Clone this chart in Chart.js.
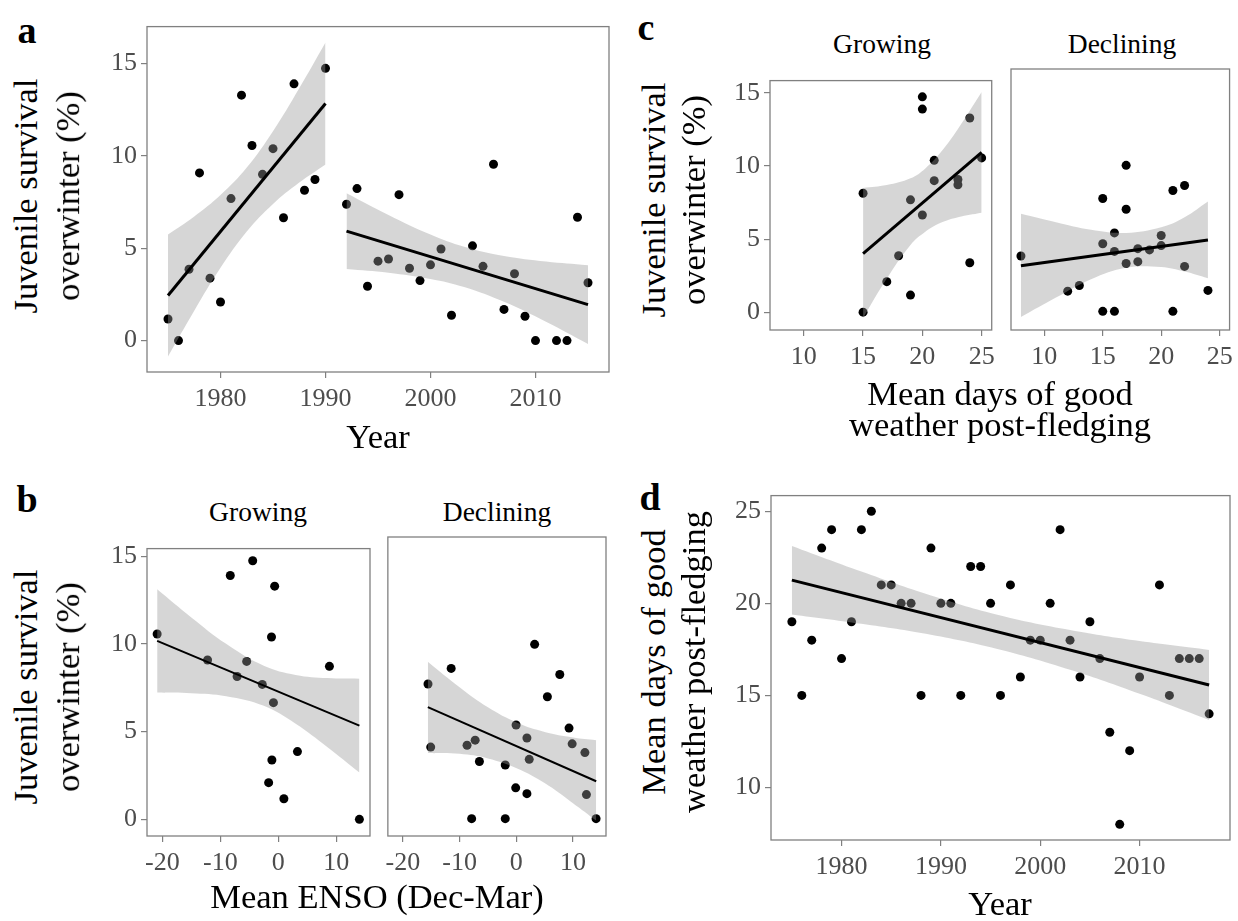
<!DOCTYPE html>
<html><head><meta charset="utf-8">
<script src="https://cdn.jsdelivr.net/npm/chart.js@4.4.1/dist/chart.umd.min.js"></script>
<style>
html,body{margin:0;padding:0;background:#fff;}
#root{position:relative;width:1238px;height:921px;overflow:hidden;background:#fff;}
canvas{position:absolute;}
.t{position:absolute;left:0;top:0;white-space:nowrap;font-family:'Liberation Serif','Times New Roman',serif;color:#000;transform-origin:0 0;}
</style></head><body><div id="root"></div>
<script>
// ---------- DATA ----------
// Panel a : juvenile survival by year
const yearsGrowing = [1975,1976,1977,1978,1979,1980,1981,1982,1983,1984,1985,1986,1987,1988,1989,1990];
const survivalGrowing = [1.17,0,3.86,9.08,3.38,2.09,7.69,13.29,10.56,9.0,10.39,6.65,13.9,8.14,8.72,14.74];
const yearsDeclining = [1992,1993,1994,1995,1996,1997,1998,1999,2000,2001,2002,2004,2005,2006,2007,2008,2009,2010,2012,2013,2014,2015];
const survivalDeclining = [7.38,8.23,2.94,4.3,4.42,7.9,3.92,3.25,4.1,4.96,1.37,5.13,4.02,9.55,1.69,3.62,1.32,0,0,0,6.68,3.13];
const fitA_grow_x = [1975,1990], fitA_grow_y = [2.44,12.84];
const bandA_grow_x = [1975,1977.5,1980,1982.5,1985,1987.5,1990];
const bandA_grow_hi = [5.74,6.72,7.88,9.37,11.34,13.66,16.14];
const bandA_grow_lo = [-0.86,1.62,3.94,5.91,7.40,8.56,9.54];
const fitA_decl_x = [1992,2015], fitA_decl_y = [5.93,1.95];
const bandA_decl_x = [1992,1996,2000,2003.2,2007,2011,2015];
const bandA_decl_hi = [7.98,6.80,5.74,5.08,4.58,4.28,4.08];
const bandA_decl_lo = [3.88,3.68,3.34,2.90,2.10,1.02,-0.18];

// Panel b : survival vs mean ENSO (Dec-Mar)
const ensoGrowing = [-20.9,-12.2,-8.28,-7.1,-5.45,-4.41,-2.76,-1.17,-0.83,-0.62,-1.1,-1.66,0.97,3.31,8.83,14.0];
const survEnsoGrowing = [10.56,9.08,13.9,8.14,9.0,14.74,7.69,10.39,6.65,13.29,3.38,2.09,1.17,3.86,8.72,0];
const ensoDeclining = [-15.57,-15.09,-11.48,-8.68,-7.87,-7.25,-6.5,-1.94,-1.94,-0.1,-0.03,1.88,1.88,2.29,3.24,5.49,7.68,9.31,9.86,12.11,12.38,14.08];
const survEnsoDeclining = [7.38,3.92,8.23,4.02,0,4.3,3.13,2.94,0,1.69,5.13,4.42,1.37,3.25,9.55,6.68,7.9,4.96,4.1,3.62,1.32,0];
const fitB_grow_x = [-20.9,14.0], fitB_grow_y = [10.17,5.34];
const bandB_grow_x = [-20.9,-15,-9,-2.5,3,8.5,14.0];
const bandB_grow_hi = [13.11,11.51,10.00,8.75,8.23,8.05,8.01];
const bandB_grow_lo = [7.23,7.19,7.02,6.47,5.45,4.11,2.67];
const fitB_decl_x = [-15.6,14.1], fitB_decl_y = [6.11,2.05];
const bandB_decl_x = [-15.6,-10,-5,0.17,5,10,14.1];
const bandB_decl_hi = [8.6,7.2,6.1,5.25,4.75,4.45,4.3];
const bandB_decl_lo = [3.6,3.55,3.3,2.75,1.95,0.85,-0.1];

// Panel c : survival vs mean days of good weather post-fledging
const daysGrowing = [15,15,17,18,19,19,20,20,20,21,21,23,23,24,24,25];
const survDaysGrowing = [8.14,0,2.09,3.86,7.69,1.17,14.74,13.9,6.65,10.39,9.0,9.08,8.72,13.29,3.38,10.56];
const daysDeclining = [8,12,13,15,15,15,16,16,16,17,17,17,18,18,19,20,20,21,21,22,22,24];
const survDaysDeclining = [3.62,1.32,1.69,7.38,4.42,0,5.13,3.92,0,9.55,6.68,3.13,4.1,3.25,4.02,4.96,4.3,7.9,0,8.23,2.94,1.37];
const fitC_grow_x = [15,25], fitC_grow_y = [4.01,10.94];
const bandC_grow_x = [15,17,19,20.25,21.5,23,25];
const bandC_grow_hi = [8.5,8.7,9.16,9.84,10.89,12.54,15.07];
const bandC_grow_lo = [-0.4,2.3,4.6,5.5,6.1,6.5,6.81];
const fitC_decl_x = [8,24], fitC_decl_y = [2.98,4.67];
const bandC_decl_x = [8,11,14,17,20,22,24];
const bandC_decl_hi = [6.38,5.83,5.33,5.13,5.5,6.16,7.19];
const bandC_decl_lo = [-0.37,0.9,2.1,2.85,2.9,2.6,2.17];

// Panel d : mean days of good weather post-fledging by year
const yearsAll = [1975,1976,1977,1978,1979,1980,1981,1982,1983,1984,1985,1986,1987,1988,1989,1990,1991,1992,1993,1994,1995,1996,1997,1998,1999,2000,2001,2002,2003,2004,2005,2006,2007,2008,2009,2010,2012,2013,2014,2015,2016,2017];
const goodDays = [19,15,18,23,24,17,19,24,25,21,21,20,20,15,23,20,20,15,22,22,20,15,21,16,18,18,20,24,18,16,19,17,13,8,12,16,21,15,17,17,17,14];
const fitD_x = [1975,2017], fitD_y = [21.26,15.57];
const bandD_x = [1975,1982,1989,1996,2003,2010,2017];
const bandD_hi = [23.12,21.73,20.43,19.34,18.55,17.95,17.47];
const bandD_lo = [19.40,18.89,18.29,17.48,16.39,15.09,13.67];

// tick labels
const ticksYear = [1980,1990,2000,2010];
const ticksSurvival = [0,5,10,15];
const ticksEnso = [-20,-10,0,10];
const ticksDays = [10,15,20,25];
const ticksGoodDays = [10,15,20,25];

// ---------- DRAWING ----------
const root = document.getElementById('root');
const FONT = "'Liberation Serif','Times New Roman',serif";
const xy = (xs, ys) => xs.map((x, i) => ({x: x, y: ys[i]}));

const framePlugin = {
  id: 'frame',
  afterDraw(c) {
    const a = c.chartArea, ctx = c.ctx;
    ctx.save();
    ctx.strokeStyle = '#808080';
    ctx.lineWidth = 1.3;
    ctx.strokeRect(a.left, a.top, a.right - a.left, a.bottom - a.top);
    ctx.restore();
  }
};

function groupDatasets(px, py, fx, fy, bx, bhi, blo, lw) {
  return [
    {data: xy(fx, fy), showLine: true, borderColor: '#000', borderWidth: lw, pointRadius: 0, fill: false, order: 1},
    {data: xy(bx, bhi), showLine: true, borderColor: 'rgba(0,0,0,0)', borderWidth: 0, pointRadius: 0,
     fill: '+1', backgroundColor: 'rgba(153,153,153,0.4)', tension: 0.4, order: 2},
    {data: xy(bx, blo), showLine: true, borderColor: 'rgba(0,0,0,0)', borderWidth: 0, pointRadius: 0, fill: false, tension: 0.4, order: 2},
    {data: xy(px, py), showLine: false, pointRadius: 4.5, pointBackgroundColor: '#000', pointBorderWidth: 0, order: 3, clip: false}
  ];
}

function panel(p) {
  const PAD = 8, XH = 50, YW = p.yTicks ? 64 : 0;
  const leftPad = p.yTicks ? 0 : PAD;
  const cl = p.L - YW - leftPad, ct = p.T - PAD;
  const cw = p.R - cl + PAD, ch = p.B - ct + XH;
  const cv = document.createElement('canvas');
  cv.width = cw; cv.height = ch;
  cv.style.left = cl + 'px'; cv.style.top = ct + 'px';
  cv.style.width = cw + 'px'; cv.style.height = ch + 'px';
  root.appendChild(cv);
  const tickFont = {family: FONT, size: 26};
  const grid = {drawOnChartArea: false, drawTicks: true, tickLength: 6, color: '#808080', lineWidth: 1.2};
  new Chart(cv.getContext('2d'), {
    type: 'scatter',
    data: {datasets: p.datasets},
    options: {
      responsive: false, animation: false, events: [],
      layout: {padding: {left: leftPad, top: PAD, right: PAD, bottom: 0}, autoPadding: false},
      plugins: {legend: {display: false}, tooltip: {enabled: false}},
      scales: {
        x: {type: 'linear', min: p.xMin, max: p.xMax,
            afterBuildTicks: s => { s.ticks = p.xTicks.map(v => ({value: v})); },
            afterFit: s => { s.height = XH; },
            ticks: {font: tickFont, color: '#4d4d4d', padding: 6, maxRotation: 0, minRotation: 0, autoSkip: false, callback: v => String(v)},
            grid: grid, border: {display: false}},
        y: {type: 'linear', min: p.yMin, max: p.yMax, display: !!p.yTicks,
            afterBuildTicks: s => { s.ticks = (p.yTicks || []).map(v => ({value: v})); },
            afterFit: s => { s.width = YW; },
            ticks: {font: tickFont, color: '#4d4d4d', padding: 4, autoSkip: false, callback: v => String(v)},
            grid: grid, border: {display: false}}
      }
    },
    plugins: [framePlugin]
  });
}

function text(str, x, y, size, opt) {
  opt = opt || {};
  const d = document.createElement('div');
  d.className = 't';
  d.textContent = str;
  d.style.fontSize = size + 'px';
  d.style.lineHeight = size + 'px';
  if (opt.bold) d.style.fontWeight = 'bold';
  const off = 0.8375 * size;
  d.style.transform = opt.rot
    ? `translate(${x}px,${y}px) rotate(-90deg) translate(-50%,${-off}px)`
    : `translate(${x}px,${y}px) translate(-50%,${-off}px)`;
  root.appendChild(d);
}

// Panel a
panel({L: 147, R: 609, T: 15, B: 372, xMin: 1973, xMax: 2017, yMin: -1.7, yMax: 17.0,
  xTicks: ticksYear, yTicks: ticksSurvival,
  datasets: [
    ...groupDatasets(yearsGrowing, survivalGrowing, fitA_grow_x, fitA_grow_y, bandA_grow_x, bandA_grow_hi, bandA_grow_lo, 3),
    ...groupDatasets(yearsDeclining, survivalDeclining, fitA_decl_x, fitA_decl_y, bandA_decl_x, bandA_decl_hi, bandA_decl_lo, 3)
  ]});
// Panel b
panel({L: 147, R: 370, T: 537, B: 836, xMin: -22.65, xMax: 15.83, yMin: -0.95, yMax: 15.43,
  xTicks: ticksEnso, yTicks: ticksSurvival,
  datasets: groupDatasets(ensoGrowing, survEnsoGrowing, fitB_grow_x, fitB_grow_y, bandB_grow_x, bandB_grow_hi, bandB_grow_lo, 2)});
panel({L: 387, R: 606, T: 537, B: 836, xMin: -22.65, xMax: 15.83, yMin: -0.95, yMax: 15.43,
  xTicks: ticksEnso, yTicks: null,
  datasets: groupDatasets(ensoDeclining, survEnsoDeclining, fitB_decl_x, fitB_decl_y, bandB_decl_x, bandB_decl_hi, bandB_decl_lo, 2)});
// Panel c
panel({L: 770, R: 993, T: 69, B: 330, xMin: 7.15, xMax: 25.85, yMin: -1.22, yMax: 15.85,
  xTicks: ticksDays, yTicks: ticksSurvival,
  datasets: groupDatasets(daysGrowing, survDaysGrowing, fitC_grow_x, fitC_grow_y, bandC_grow_x, bandC_grow_hi, bandC_grow_lo, 3)});
panel({L: 1011, R: 1231, T: 69, B: 330, xMin: 7.15, xMax: 25.85, yMin: -1.22, yMax: 15.85,
  xTicks: ticksDays, yTicks: null,
  datasets: groupDatasets(daysDeclining, survDaysDeclining, fitC_decl_x, fitC_decl_y, bandC_decl_x, bandC_decl_hi, bandC_decl_lo, 3)});
// Panel d
panel({L: 771, R: 1230, T: 484, B: 840, xMin: 1972.9, xMax: 2019.1, yMin: 7.15, yMax: 25.85,
  xTicks: ticksYear, yTicks: ticksGoodDays,
  datasets: groupDatasets(yearsAll, goodDays, fitD_x, fitD_y, bandD_x, bandD_hi, bandD_lo, 3)});

// Text
const TS = 34.5, SS = 27.5, LS = 38;
text('a', 27, 43, LS, {bold: true});
text('Juvenile survival', 37, 196, TS, {rot: true});
text('overwinter (%)', 79, 196, TS, {rot: true});
text('Year', 378, 448, TS);

text('b', 27, 512, LS, {bold: true});
text('Growing', 258, 521, SS);
text('Declining', 497, 521, SS);
text('Juvenile survival', 37, 687, TS, {rot: true});
text('overwinter (%)', 79, 687, TS, {rot: true});
text('Mean ENSO (Dec-Mar)', 377, 908, TS);

text('c', 646, 40, LS, {bold: true});
text('Growing', 882, 53, SS);
text('Declining', 1122, 53, SS);
text('Juvenile survival', 665, 200, TS, {rot: true});
text('overwinter (%)', 705, 200, TS, {rot: true});
text('Mean days of good', 1000, 405, TS);
text('weather post-fledging', 1000, 436, TS);

text('d', 650, 510, LS, {bold: true});
text('Mean days of good', 665, 662, TS, {rot: true});
text('weather post-fledging', 705, 662, TS, {rot: true});
text('Year', 1000, 915, TS);
</script></body></html>
